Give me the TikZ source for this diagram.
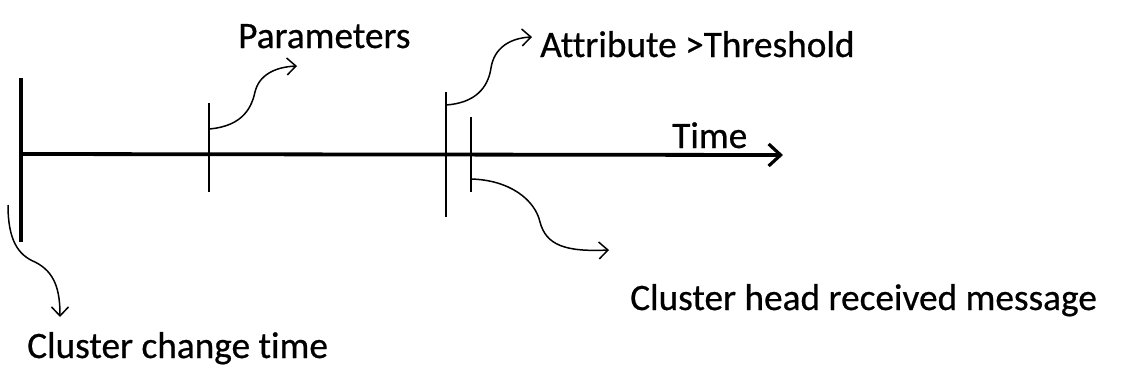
\documentclass[tikz,border=0pt]{standalone}
\usepackage{fontspec}
\setmainfont[Ligatures=NoCommon, FakeBold=0.6]{Carlito}
\usetikzlibrary{arrows.meta}
\tikzset{
  lbl/.style={anchor=base west, inner sep=0pt, font=\fontsize{37.3pt}{40pt}\selectfont},
  axis/.style={line width=3.8pt},
  bigtick/.style={line width=3.6pt},
  tickline/.style={line width=1.8pt},
  curve/.style={line width=1.5pt, -{Straight Barb[length=9pt,width=17pt,line width=1.5pt]}},
}
\begin{document}
\begin{tikzpicture}[x=1pt,y=-1pt]
\useasboundingbox (0,0) rectangle (1130,378);
% texts
\node[lbl] (par) at (238,48) {Parameters};
\node[lbl] (att) at (540,57) {Attribute >Threshold};
\node[lbl] (tim) at (672,148) {Time};
\node[lbl] (chr) at (630,310) {Cluster head received message};
\node[lbl] (cct) at (27,358) {Cluster change time};
% coordinates
\coordinate (o) at (20,154);
\coordinate (tend) at (783,155);
\coordinate (vt) at (21,78);
\coordinate (vb) at (21,242);
\coordinate (t1a) at (209,103);
\coordinate (t1b) at (209,192);
\coordinate (t2a) at (446,92);
\coordinate (t2b) at (446,217);
\coordinate (t3a) at (471,117);
\coordinate (t3b) at (471,192);
\coordinate (p1s) at (209,129);
\coordinate (p1e) at (297,66);
\coordinate (p2s) at (446,105);
\coordinate (p2e) at (532,37);
\coordinate (p3s) at (471,179);
\coordinate (p3e) at (609,250);
\coordinate (p4s) at (8,205);
\coordinate (p4e) at (60,317);
% axis
\draw[axis, -{Straight Barb[length=12pt,width=22pt,line width=3.2pt]}] (o) -- (tend);
\draw[bigtick] (vt) -- (vb);
\draw[tickline] (t1a) -- (t1b);
\draw[tickline] (t2a) -- (t2b);
\draw[tickline] (t3a) -- (t3b);
% curved arrows
\draw[curve] (p1s) .. controls (245,126) and (252,105) .. (255,92) .. controls (259,75) and (275,67) .. (p1e);
\draw[curve] (p2s) .. controls (475,103) and (488,88) .. (491,68) .. controls (494,48) and (510,38) .. (p2e);
\draw[curve] (p3s) .. controls (510,180) and (535,200) .. (540,222) .. controls (546,245) and (565,252) .. (p3e);
\draw[curve] (p4s) .. controls (8,240) and (18,255) .. (35,262) .. controls (55,272) and (60,290) .. (p4e);
\end{tikzpicture}
\end{document}
